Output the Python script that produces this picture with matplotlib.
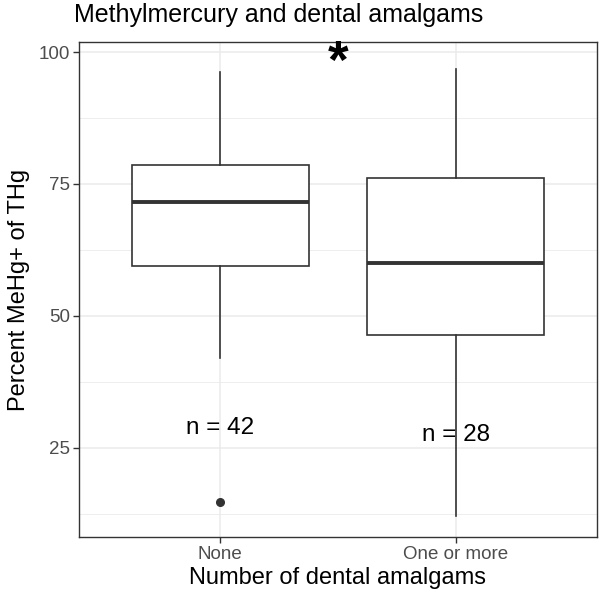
import matplotlib
matplotlib.use("Agg")
import matplotlib.pyplot as plt
from matplotlib.ticker import FixedLocator

plt.rcParams['font.family'] = ['Liberation Sans', 'DejaVu Sans']

categories = ["None", "One or more"]
whisker_low = [42.0, 12.1]
q1 = [59.5, 46.4]
median = [71.6, 60.0]
q3 = [78.6, 76.1]
whisker_high = [96.2, 96.8]
outliers = [[14.8], []]
n_labels = ["n = 42", "n = 28"]
n_label_y = [28.8, 27.5]
yticks = [25, 50, 75, 100]
yminor = [12.5, 37.5, 62.5, 87.5]

fig = plt.figure(figsize=(6.0, 5.99), dpi=100)
ax = fig.add_axes([79/600, 1 - 537/599, (597-79)/600, (537-42)/599])

pos = list(range(1, len(categories) + 1))
stats = []
for i in range(len(categories)):
    stats.append(dict(whislo=whisker_low[i], q1=q1[i], med=median[i], q3=q3[i],
                      whishi=whisker_high[i], fliers=outliers[i], label=categories[i]))

dark = "#333333"
ax.bxp(stats, positions=pos, widths=0.75, patch_artist=True, showcaps=False,
       boxprops=dict(facecolor="white", edgecolor=dark, linewidth=1.2),
       whiskerprops=dict(color=dark, linewidth=1.2),
       medianprops=dict(color=dark, linewidth=2.8, solid_capstyle='butt'),
       flierprops=dict(marker='o', markerfacecolor=dark, markeredgecolor=dark, markersize=5.5),
       zorder=3)

ax.set_xlim(0.4, 2.6)
ax.set_ylim(8.1, 101.9)
ax.yaxis.set_major_locator(FixedLocator(yticks))
ax.yaxis.set_minor_locator(FixedLocator(yminor))
ax.set_xticks(pos)
ax.set_xticklabels(categories)

ax.grid(True, which='major', color="#EBEBEB", linewidth=1.1, zorder=0)
ax.grid(True, which='minor', axis='y', color="#EBEBEB", linewidth=0.6, zorder=0)
ax.set_axisbelow(True)
for s in ax.spines.values():
    s.set_color("#333333")
    s.set_linewidth(1.0)
ax.tick_params(which='major', length=4, width=1.0, color="#333333", labelsize=13.5,
               labelcolor="#4D4D4D", pad=2.5)
ax.tick_params(which='minor', length=0)

for i in range(len(categories)):
    ax.text(pos[i], n_label_y[i], n_labels[i], ha='center', va='center', fontsize=17.5, color='black', zorder=4)

ax.text(1.5, 97.8, "*", ha='center', va='center', fontsize=38, fontweight='bold', color='black')

ax.set_xlabel("Number of dental amalgams", fontsize=17, labelpad=3)
ax.set_ylabel("Percent MeHg+ of THg", fontsize=17, labelpad=6)
fig.text(74/600, 1 - 15/599, "Methylmercury and dental amalgams", fontsize=18, ha='left', va='center')

fig.savefig("out.png", dpi=100)
